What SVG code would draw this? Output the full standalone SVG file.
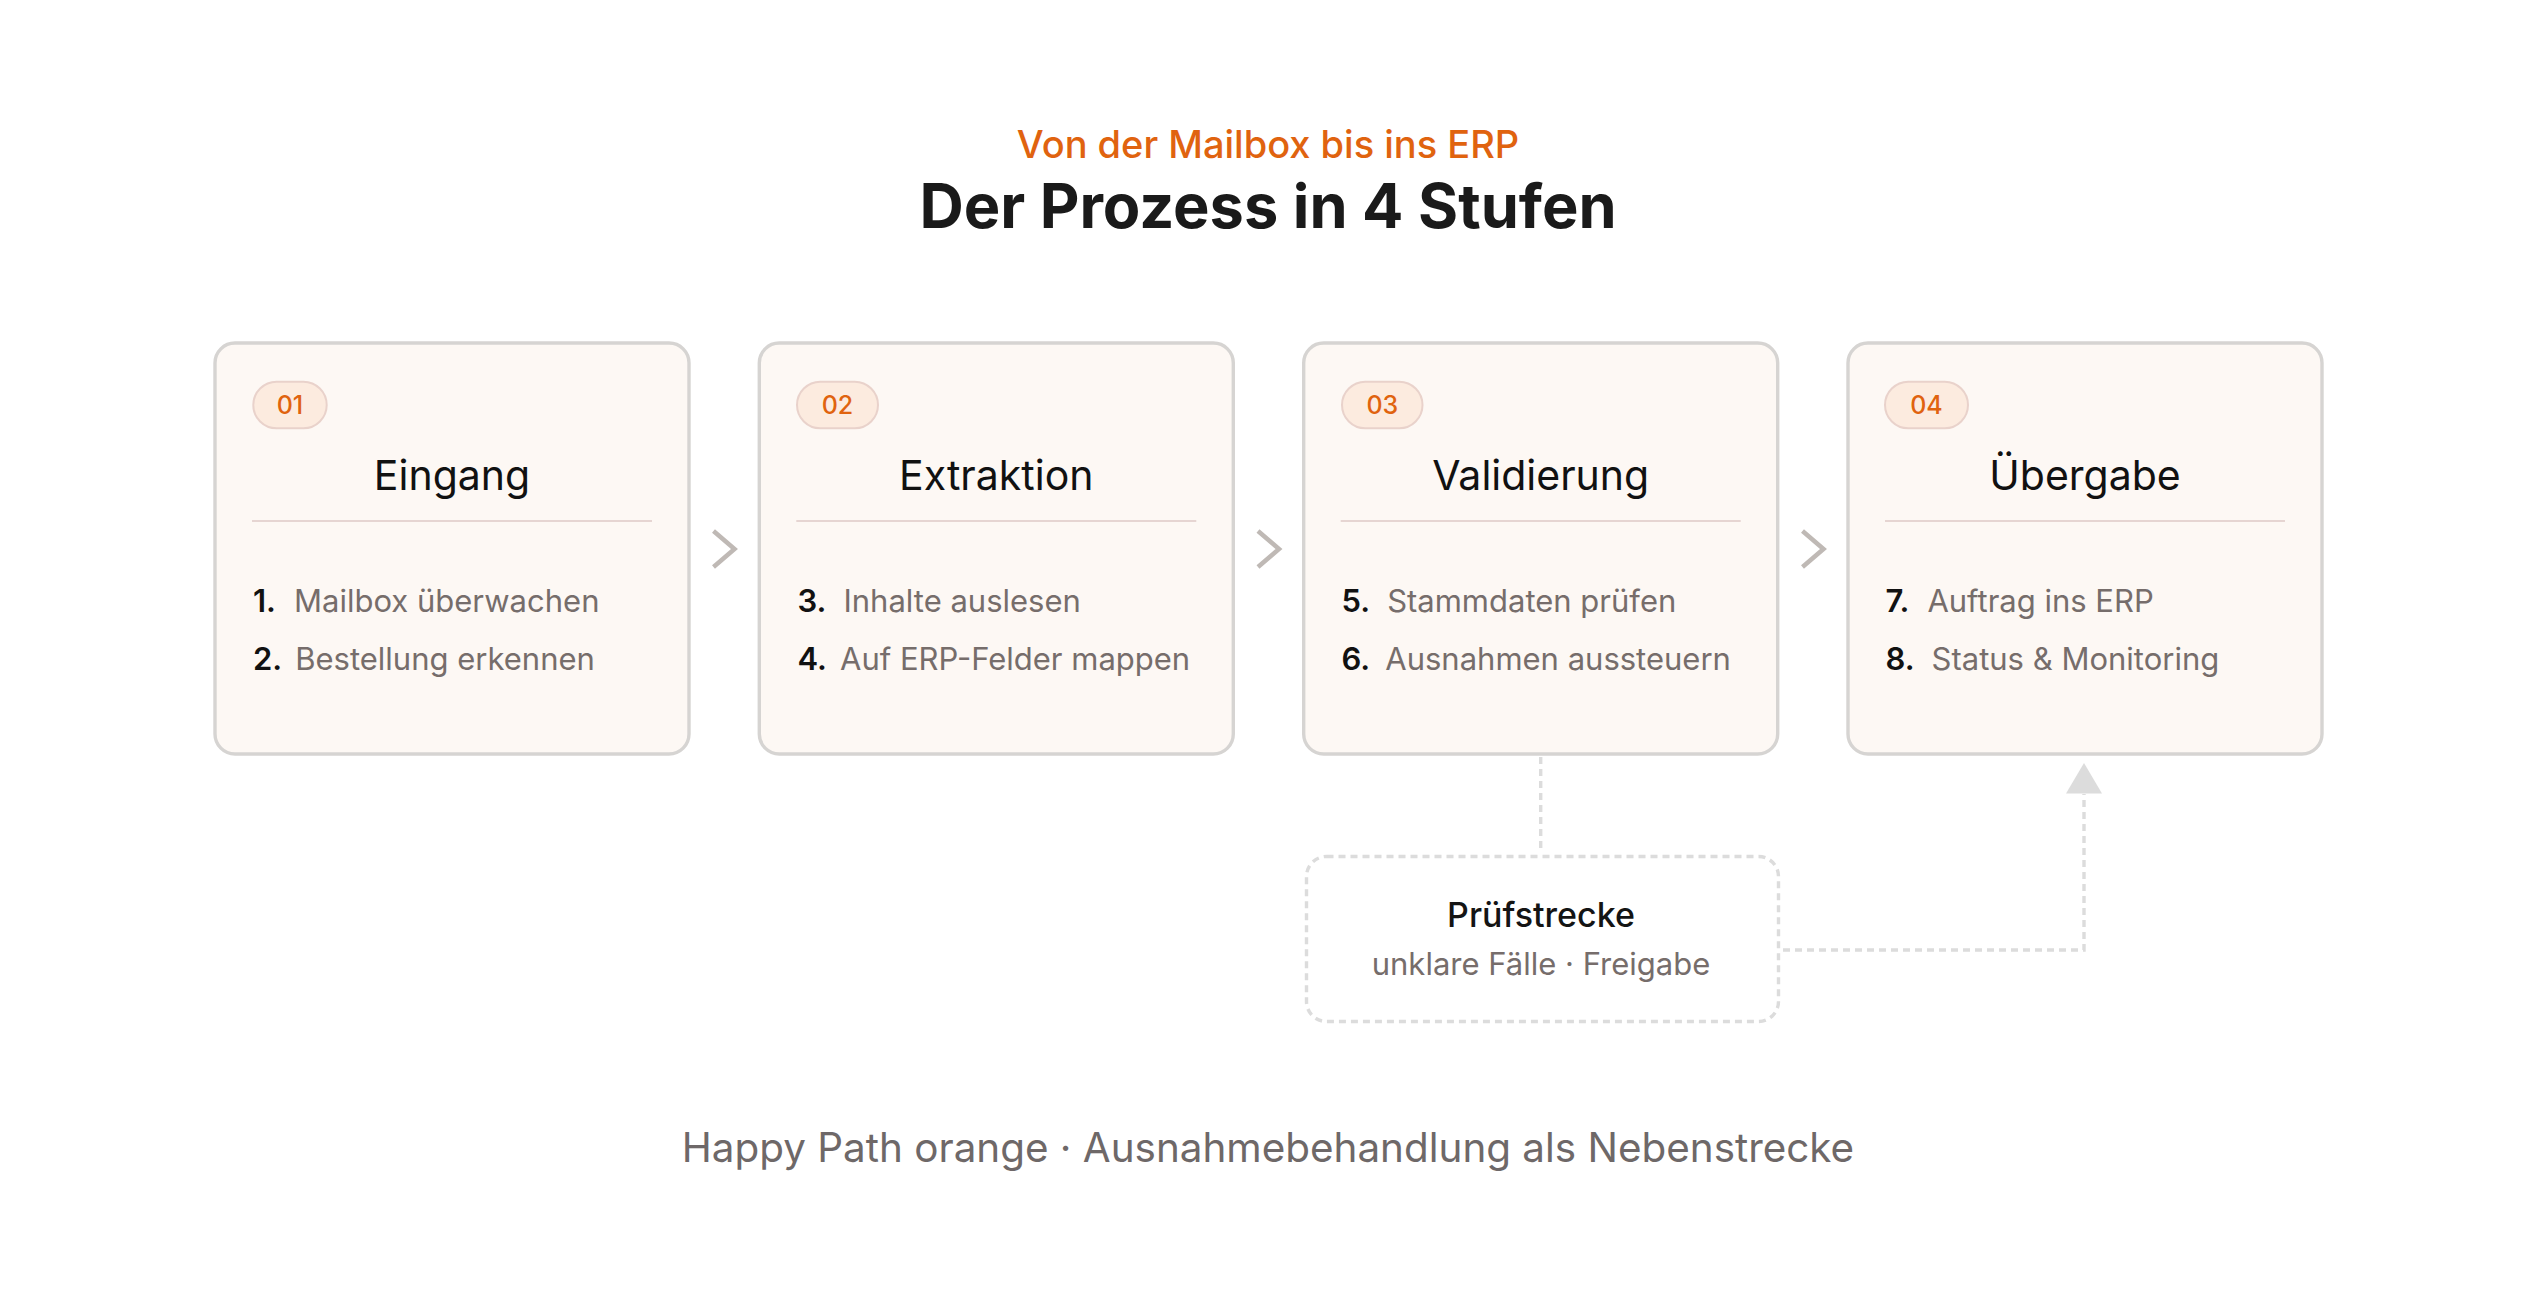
<svg xmlns="http://www.w3.org/2000/svg" width="2536" height="1296" viewBox="0 0 2536 1296">
  <style>
    .card { fill: #fdf8f4; stroke: #d6d4d2; stroke-width: 3.4; }
    .badge { fill: #fcebdf; stroke: #e9d2cb; stroke-width: 2; }
    .badge-t { font-family: Inter, "Noto Sans", sans-serif; font-size: 25px; font-weight: 500; fill: #e0630f; text-anchor: middle; }
    .head { font-family: Inter, "Noto Sans", sans-serif; font-size: 41px; font-weight: 400; fill: #111111; text-anchor: middle; }
    .div { stroke: #e6d5d2; stroke-width: 2; }
    .item { font-family: Inter, "Noto Sans", sans-serif; font-size: 31px; font-weight: 400; fill: #766d6b; }
    .num { font-weight: 600; fill: #111111; }
    .chev { fill: none; stroke: #bfb9b5; stroke-width: 4.5; }
    .dash { fill: none; stroke: #dcdcdc; stroke-width: 3.4; stroke-dasharray: 7 5; }
    .sub { font-family: Inter, "Noto Sans", sans-serif; }
  </style>

  <g id="header">
    <text x="1268" y="157.5" class="sub" font-size="38" font-weight="500" fill="#e0630f" text-anchor="middle">Von der Mailbox bis ins ERP</text>
    <text x="1268" y="228" class="sub" font-size="61.3" font-weight="700" fill="#1a1a1a" text-anchor="middle">Der Prozess in 4 Stufen</text>
  </g>

  <g id="connectors">
    <polyline class="chev" points="713.5,531 734.5,549 713.5,567"/>
    <polyline class="chev" points="1258,531 1279,549 1258,567"/>
    <polyline class="chev" points="1802.5,531 1823.5,549 1802.5,567"/>
    <line class="dash" x1="1540.7" y1="757" x2="1540.7" y2="851"/>
    <polyline class="dash" points="1783,950 2084,950 2084,794"/>
    <polygon points="2084,763 2066,793.5 2102,793.5" fill="#dcdcdc"/>
  </g>

  <g id="card-01">
    <rect class="card" x="215" y="343" width="474" height="411" rx="20"/>
    <rect class="badge" x="253.3" y="381.7" width="73.4" height="46.6" rx="23.3"/>
    <text class="badge-t" x="290" y="413.5">01</text>
    <text class="head" x="452" y="490">Eingang</text>
    <line class="div" x1="252" y1="521" x2="652" y2="521"/>
    <text class="item" x="253" y="611.7"><tspan class="num">1.</tspan><tspan dx="18">Mailbox überwachen</tspan></text>
    <text class="item" x="253" y="670"><tspan class="num">2.</tspan><tspan dx="13">Bestellung erkennen</tspan></text>
  </g>

  <g id="card-02">
    <rect class="card" x="759.3" y="343" width="474" height="411" rx="20"/>
    <rect class="badge" x="797" y="381.7" width="81" height="46.6" rx="23.3"/>
    <text class="badge-t" x="837.5" y="413.5">02</text>
    <text class="head" x="996.3" y="490">Extraktion</text>
    <line class="div" x1="796.3" y1="521" x2="1196.3" y2="521"/>
    <text class="item" x="797.5" y="611.7"><tspan class="num">3.</tspan><tspan dx="17">Inhalte auslesen</tspan></text>
    <text class="item" x="797.5" y="670"><tspan class="num">4.</tspan><tspan dx="13">Auf ERP-Felder mappen</tspan></text>
  </g>

  <g id="card-03">
    <rect class="card" x="1303.7" y="343" width="474" height="411" rx="20"/>
    <rect class="badge" x="1342" y="381.7" width="80.5" height="46.6" rx="23.3"/>
    <text class="badge-t" x="1382.3" y="413.5">03</text>
    <text class="head" x="1540.7" y="490">Validierung</text>
    <line class="div" x1="1340.7" y1="521" x2="1740.7" y2="521"/>
    <text class="item" x="1341.5" y="611.7"><tspan class="num">5.</tspan><tspan dx="17">Stammdaten prüfen</tspan></text>
    <text class="item" x="1341.5" y="670"><tspan class="num">6.</tspan><tspan dx="15">Ausnahmen aussteuern</tspan></text>
  </g>

  <g id="card-04">
    <rect class="card" x="1848" y="343" width="474" height="411" rx="20"/>
    <rect class="badge" x="1885" y="381.7" width="83" height="46.6" rx="23.3"/>
    <text class="badge-t" x="1926.5" y="413.5">04</text>
    <text class="head" x="2085" y="490">Übergabe</text>
    <line class="div" x1="1885" y1="521" x2="2285" y2="521"/>
    <text class="item" x="1885.5" y="611.7"><tspan class="num">7.</tspan><tspan dx="18">Auftrag ins ERP</tspan></text>
    <text class="item" x="1885.5" y="670"><tspan class="num">8.</tspan><tspan dx="17">Status &amp; Monitoring</tspan></text>
  </g>

  <g id="pruefstrecke">
    <rect class="dash" x="1306.5" y="856.5" width="472" height="165" rx="20"/>
    <text x="1541" y="927" font-family="Inter, 'Noto Sans', sans-serif" font-size="34" font-weight="500" fill="#141414" text-anchor="middle">Prüfstrecke</text>
    <text x="1541" y="975" font-family="Inter, 'Noto Sans', sans-serif" font-size="31" fill="#766d6b" text-anchor="middle">unklare Fälle · Freigabe</text>
  </g>

  <g id="footer">
    <text x="1268" y="1162" font-family="Inter, 'Noto Sans', sans-serif" font-size="40.4" fill="#6e6868" text-anchor="middle">Happy Path orange · Ausnahmebehandlung als Nebenstrecke</text>
  </g>
</svg>
